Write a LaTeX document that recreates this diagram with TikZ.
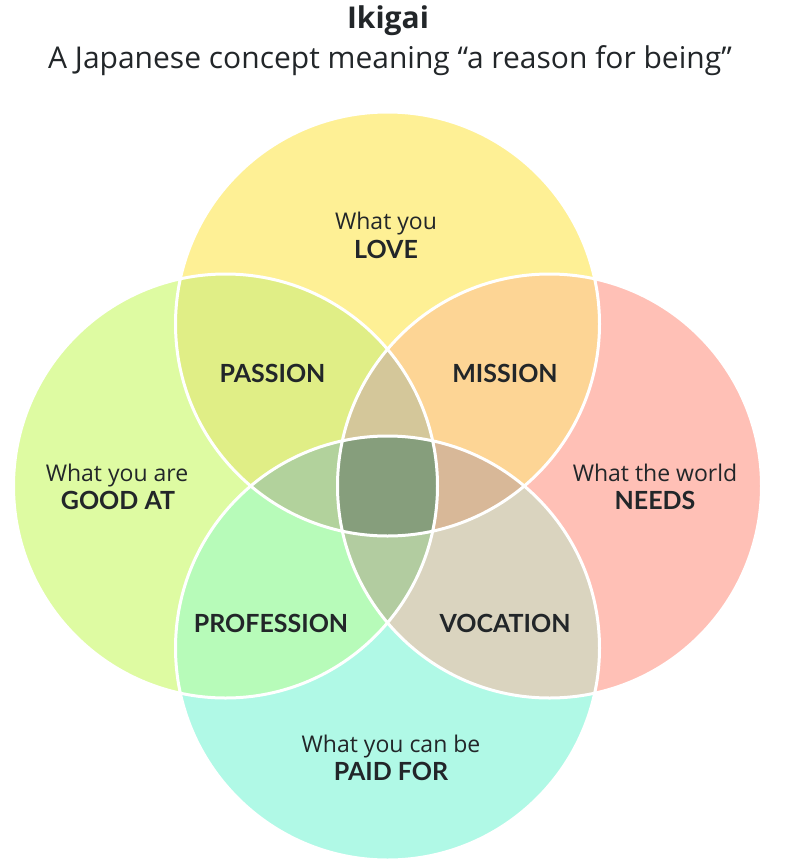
\documentclass[tikz,border=0pt]{standalone}
\usepackage{fontspec}
\setmainfont{Lato}
\newfontfamily\headfont{Open Sans}
\usepackage{xcolor}

\definecolor{txt}{RGB}{34,38,41}
\definecolor{loveC}{RGB}{254,240,149}
\definecolor{goodC}{RGB}{222,251,162}
\definecolor{needsC}{RGB}{255,192,182}
\definecolor{paidC}{RGB}{176,249,230}
\definecolor{passionC}{RGB}{224,238,134}
\definecolor{missionC}{RGB}{253,213,149}
\definecolor{professionC}{RGB}{183,251,185}
\definecolor{vocationC}{RGB}{218,212,191}
\definecolor{tlrC}{RGB}{212,199,154}
\definecolor{tlbC}{RGB}{178,210,156}
\definecolor{trbC}{RGB}{216,184,152}
\definecolor{lrbC}{RGB}{178,204,160}
\definecolor{ikigaiC}{RGB}{134,158,124}

\begin{document}
\begin{tikzpicture}[x=1pt, y=-1pt,
    lab/.style={text=txt, inner sep=0pt, anchor=base, font=\headfont\fontsize{23}{27}\selectfont},
    key/.style={text=txt, inner sep=0pt, anchor=base, font=\fontsize{25}{30}\selectfont\bfseries},
    ring/.style={draw=white, line width=3pt}]

    \useasboundingbox (0,0) rectangle (809,865);
    \def\rr{212pt}

    % Circle centres
    \coordinate (cT) at (387.5,324);
    \coordinate (cL) at (225.5,486);
    \coordinate (cR) at (549.5,486);
    \coordinate (cB) at (387.5,648);

    % Single circles
    \foreach \c/\col in {cT/loveC, cL/goodC, cR/needsC, cB/paidC}
        \fill[\col] (\c) circle (\rr);

    % Two circles
    \foreach \a/\b/\col in {cT/cL/passionC, cT/cR/missionC, cL/cB/professionC, cR/cB/vocationC} {
        \begin{scope}
            \clip (\a) circle (\rr);
            \fill[\col] (\b) circle (\rr);
        \end{scope}
    }

    % Three circles
    \foreach \a/\b/\c/\col in {cT/cL/cR/tlrC, cT/cL/cB/tlbC, cT/cR/cB/trbC, cL/cR/cB/lrbC} {
        \begin{scope}
            \clip (\a) circle (\rr);
            \clip (\b) circle (\rr);
            \fill[\col] (\c) circle (\rr);
        \end{scope}
    }

    % All four
    \begin{scope}
        \clip (cT) circle (\rr);
        \clip (cL) circle (\rr);
        \clip (cR) circle (\rr);
        \fill[ikigaiC] (cB) circle (\rr);
    \end{scope}

    % White rims
    \foreach \c in {cT, cL, cR, cB}
        \draw[ring] (\c) circle (\rr);

    % Title
    \node[text=txt, inner sep=0pt, anchor=base, font=\headfont\fontsize{30}{34}\selectfont\bfseries] (ttl) at (388,28) {Ikigai};
    \node[text=txt, inner sep=0pt, anchor=base, font=\headfont\fontsize{30}{36}\selectfont] (sub) at (390,68) {A Japanese concept meaning “a reason for being”};

    % Circle labels
    \node[lab] (loveA) at (386,229) {What you};
    \node[key] (loveB) at (386,258) {LOVE};
    \node[lab] (goodA) at (117,481) {What you are};
    \node[key] (goodB) at (118,509) {GOOD AT};
    \node[lab] (needsA) at (655,481) {What the world};
    \node[key] (needsB) at (655,509) {NEEDS};
    \node[lab] (paidA) at (391,752) {What you can be};
    \node[key] (paidB) at (391,780) {PAID FOR};

    % Overlap labels
    \node[key] (passion) at (272.5,382) {PASSION};
    \node[key] (mission) at (505,382) {MISSION};
    \node[key] (profession) at (271,632) {PROFESSION};
    \node[key] (vocation) at (505,632) {VOCATION};

\end{tikzpicture}
\end{document}
